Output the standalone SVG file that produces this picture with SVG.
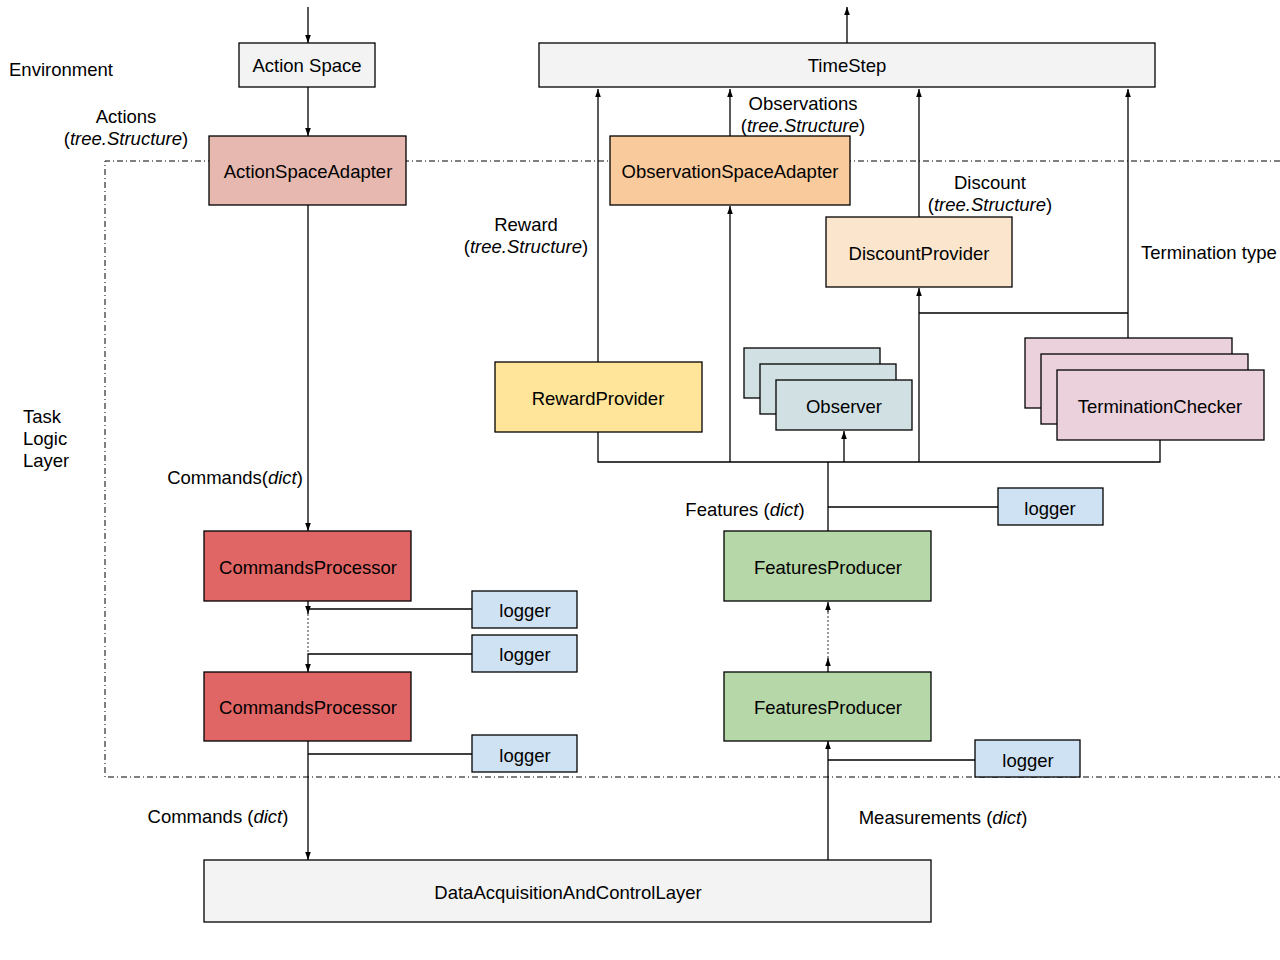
<svg xmlns="http://www.w3.org/2000/svg" width="1280" height="960" viewBox="0 0 1280 960">
<style>
text{font-family:"Liberation Sans",Arial,sans-serif;font-size:18.5px;fill:#000}
.c{text-anchor:middle}
.n{stroke:#000;stroke-width:1.3}
.l{stroke:#000;stroke-width:1.3;fill:none}
.d{stroke:#555;stroke-width:1.2;fill:none;stroke-dasharray:2 2}
.b{stroke:#000;stroke-width:1;fill:none;stroke-dasharray:6 3 1 3}
</style>
<defs>
<marker id="a" viewBox="0 0 8 8" refX="8" refY="4" markerWidth="8" markerHeight="8" markerUnits="userSpaceOnUse" orient="auto">
<path d="M0,1.2 L8,4 L0,6.8 Z" fill="#000"/>
</marker>
</defs>
<rect width="1280" height="960" fill="#fff"/>
<g id="boundary">
<path class="b" d="M1280,161 H105 V777 H1280"/>
</g>
<g id="labels">
<text x="9" y="76">Environment</text>
<text x="23" y="423">Task</text>
<text x="23" y="445">Logic</text>
<text x="23" y="467">Layer</text>
<text class="c" x="126" y="123">Actions</text>
<text class="c" x="126" y="145">(<tspan font-style="italic">tree.Structure</tspan>)</text>
<text class="c" x="803" y="110">Observations</text>
<text class="c" x="803" y="132">(<tspan font-style="italic">tree.Structure</tspan>)</text>
<text class="c" x="526" y="231">Reward</text>
<text class="c" x="526" y="253">(<tspan font-style="italic">tree.Structure</tspan>)</text>
<text class="c" x="990" y="189">Discount</text>
<text class="c" x="990" y="211">(<tspan font-style="italic">tree.Structure</tspan>)</text>
<text x="1141" y="259">Termination type</text>
<text class="c" x="235" y="484">Commands(<tspan font-style="italic">dict</tspan>)</text>
<text class="c" x="745" y="516">Features (<tspan font-style="italic">dict</tspan>)</text>
<text class="c" x="218" y="823">Commands (<tspan font-style="italic">dict</tspan>)</text>
<text class="c" x="943" y="824">Measurements (<tspan font-style="italic">dict</tspan>)</text>
</g>
<g id="connectors">
<path class="l" d="M308,7 V43" marker-end="url(#a)"/>
<path class="l" d="M847,43 V7" marker-end="url(#a)"/>
<path class="l" d="M308,87 V136" marker-end="url(#a)"/>
<path class="l" d="M308,205 V531" marker-end="url(#a)"/>
<path class="l" d="M308,601 V614" marker-end="url(#a)"/>
<path class="d" d="M308,614 V654"/>
<path class="l" d="M472,609 H308"/>
<path class="l" d="M472,654 H308 V672" marker-end="url(#a)"/>
<path class="l" d="M308,741 V860" marker-end="url(#a)"/>
<path class="l" d="M472,754 H308"/>
<path class="l" d="M828,860 V741" marker-end="url(#a)"/>
<path class="l" d="M975,760 H828"/>
<path class="l" d="M828,672 V658" marker-end="url(#a)"/>
<path class="d" d="M828,658 V612"/>
<path class="l" d="M828,612 V602" marker-end="url(#a)"/>
<path class="l" d="M828,531 V462"/>
<path class="l" d="M998,507 H828"/>
<path class="l" d="M598,432 V462 H1160 V440"/>
<path class="l" d="M598,362 V89" marker-end="url(#a)"/>
<path class="l" d="M730,462 V206" marker-end="url(#a)"/>
<path class="l" d="M730,136 V89" marker-end="url(#a)"/>
<path class="l" d="M844,462 V431" marker-end="url(#a)"/>
<path class="l" d="M919,462 V288" marker-end="url(#a)"/>
<path class="l" d="M919,217 V89" marker-end="url(#a)"/>
<path class="l" d="M919,313 H1128"/>
<path class="l" d="M1128,338 V89" marker-end="url(#a)"/>
</g>
<g id="action-space"><rect class="n" x="239" y="43" width="136" height="44" fill="#f3f3f3"/><text class="c" x="307" y="72">Action Space</text></g>
<g id="timestep"><rect class="n" x="539" y="43" width="616" height="44" fill="#f3f3f3"/><text class="c" x="847" y="72">TimeStep</text></g>
<g id="action-space-adapter"><rect class="n" x="209" y="136" width="197" height="69" fill="#e6b8af"/><text class="c" x="308" y="178">ActionSpaceAdapter</text></g>
<g id="observation-space-adapter"><rect class="n" x="610" y="136" width="240" height="69" fill="#f9cb9c"/><text class="c" x="730" y="178">ObservationSpaceAdapter</text></g>
<g id="discount-provider"><rect class="n" x="826" y="217" width="186" height="70" fill="#fce5cd"/><text class="c" x="919" y="260">DiscountProvider</text></g>
<g id="reward-provider"><rect class="n" x="495" y="362" width="207" height="70" fill="#ffe599"/><text class="c" x="598" y="405">RewardProvider</text></g>
<g id="observer">
<rect class="n" x="744" y="348" width="136" height="50" fill="#d0e0e3"/>
<rect class="n" x="760" y="364" width="136" height="50" fill="#d0e0e3"/>
<rect class="n" x="776" y="380" width="136" height="50" fill="#d0e0e3"/>
<text class="c" x="844" y="413">Observer</text>
</g>
<g id="termination-checker">
<rect class="n" x="1025" y="338" width="207" height="70" fill="#ead1dc"/>
<rect class="n" x="1041" y="354" width="207" height="70" fill="#ead1dc"/>
<rect class="n" x="1057" y="370" width="207" height="70" fill="#ead1dc"/>
<text class="c" x="1160" y="413">TerminationChecker</text>
</g>
<g id="commands-processor-1"><rect class="n" x="204" y="531" width="207" height="70" fill="#e06666"/><text class="c" x="308" y="574">CommandsProcessor</text></g>
<g id="commands-processor-2"><rect class="n" x="204" y="672" width="207" height="69" fill="#e06666"/><text class="c" x="308" y="714">CommandsProcessor</text></g>
<g id="features-producer-1"><rect class="n" x="724" y="531" width="207" height="70" fill="#b6d7a8"/><text class="c" x="828" y="574">FeaturesProducer</text></g>
<g id="features-producer-2"><rect class="n" x="724" y="672" width="207" height="69" fill="#b6d7a8"/><text class="c" x="828" y="714">FeaturesProducer</text></g>
<g id="logger-1"><rect class="n" x="472" y="591" width="105" height="37" fill="#cfe2f3"/><text class="c" x="525" y="617">logger</text></g>
<g id="logger-2"><rect class="n" x="472" y="635" width="105" height="37" fill="#cfe2f3"/><text class="c" x="525" y="661">logger</text></g>
<g id="logger-3"><rect class="n" x="472" y="735" width="105" height="37" fill="#cfe2f3"/><text class="c" x="525" y="762">logger</text></g>
<g id="logger-4"><rect class="n" x="998" y="488" width="105" height="37" fill="#cfe2f3"/><text class="c" x="1050" y="515">logger</text></g>
<g id="logger-5"><rect class="n" x="975" y="740" width="105" height="37" fill="#cfe2f3"/><text class="c" x="1028" y="767">logger</text></g>
<g id="data-acquisition"><rect class="n" x="204" y="860" width="727" height="62" fill="#f3f3f3"/><text class="c" x="568" y="899">DataAcquisitionAndControlLayer</text></g>
</svg>
